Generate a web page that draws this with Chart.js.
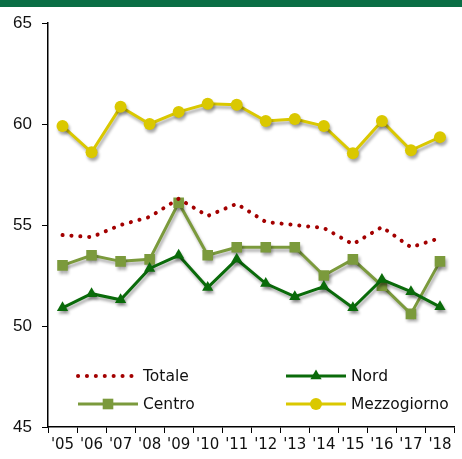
<!DOCTYPE html>
<html>
<head>
<meta charset="utf-8">
<script src="https://cdn.jsdelivr.net/npm/chart.js@4/dist/chart.umd.min.js"></script>
<style>
  html, body { margin: 0; padding: 0; background: #fff; }
  #wrap { position: relative; width: 462px; height: 459px; }
  #bar { position: absolute; left: 0; top: 0; width: 462px; height: 7px; background: #0a6e45; }
</style>
</head>
<body>
<div id="wrap">
  <canvas id="chart" width="462" height="459"></canvas>
  <div id="bar"></div>
</div>
<script>
// Data
const years = ["'05", "'06", "'07", "'08", "'09", "'10", "'11", "'12", "'13", "'14", "'15", "'16", "'17", "'18"];
const totale = [54.5, 54.4, 55.0, 55.4, 56.3, 55.45, 56.05, 55.15, 55.0, 54.85, 54.05, 54.9, 53.9, 54.35];
const nord = [50.9, 51.6, 51.3, 52.85, 53.5, 51.9, 53.3, 52.1, 51.45, 51.95, 50.9, 52.3, 51.7, 50.95];
const centro = [53.0, 53.5, 53.2, 53.3, 56.1, 53.5, 53.9, 53.9, 53.9, 52.5, 53.3, 52.0, 50.6, 53.2];
const mezzogiorno = [59.9, 58.6, 60.85, 60.0, 60.6, 61.0, 60.95, 60.15, 60.25, 59.9, 58.55, 60.15, 58.7, 59.35];
const yTicks = [45, 50, 55, 60, 65];

(function() {
  const ctx = document.getElementById('chart').getContext('2d');

  // drop shadow under each marked line, like the original
  const shadowPlugin = {
    id: 'shadow',
    beforeDatasetDraw: (chart, args) => {
      const c = chart.ctx;
      c.save();
      if (args.index === 0) return;
      c.shadowColor = 'rgba(0,0,0,0.33)';
      c.shadowBlur = 3;
      c.shadowOffsetX = 1.5;
      c.shadowOffsetY = 3;
    },
    afterDatasetDraw: (chart) => {
      chart.ctx.restore();
    }
  };

  // legend drawn inside the plot area, two columns
  const legendPlugin = {
    id: 'innerLegend',
    afterDraw: (chart) => {
      const c = chart.ctx;
      const spots = [
        { x: 78, y: 376 }, { x: 286, y: 376 },
        { x: 78, y: 404 }, { x: 286, y: 404 }
      ];
      c.save();
      chart.data.datasets.forEach((ds, i) => {
        const p = spots[i];
        const w = 60;
        c.strokeStyle = ds.borderColor;
        c.lineWidth = ds.borderWidth;
        c.lineCap = ds.borderCapStyle || 'butt';
        c.setLineDash(ds.borderDash || []);
        c.beginPath();
        c.moveTo(p.x, p.y);
        c.lineTo(p.x + w, p.y);
        c.stroke();
        c.setLineDash([]);
        if (ds.pointRadius > 0) {
          c.fillStyle = ds.pointBackgroundColor;
          Chart.helpers.drawPoint(c, {
            pointStyle: ds.pointStyle,
            radius: ds.pointRadius,
            borderWidth: 0,
            rotation: 0
          }, p.x + w / 2, p.y);
        }
        c.fillStyle = '#111';
        c.font = '15.5px "DejaVu Sans"';
        c.textBaseline = 'middle';
        c.textAlign = 'left';
        c.fillText(ds.label, p.x + w + 5, p.y + 1);
      });
      c.restore();
    }
  };

  new Chart(ctx, {
    type: 'line',
    data: {
      labels: years,
      datasets: [
        {
          label: 'Totale',
          data: totale,
          borderColor: '#a30000',
          borderWidth: 4,
          borderDash: [0.1, 8.8],
          borderCapStyle: 'round',
          pointRadius: 0,
          pointBackgroundColor: '#a30000',
          tension: 0
        },
        {
          label: 'Nord',
          data: nord,
          borderColor: '#0a6b0a',
          borderWidth: 3,
          pointStyle: 'triangle',
          pointRadius: 6.5,
          pointBorderWidth: 0,
          pointBackgroundColor: '#0a6b0a',
          tension: 0
        },
        {
          label: 'Centro',
          data: centro,
          borderColor: '#7b9a3c',
          borderWidth: 3,
          pointStyle: 'rect',
          pointRadius: 7.5,
          pointBorderWidth: 0,
          pointBackgroundColor: '#7b9a3c',
          tension: 0
        },
        {
          label: 'Mezzogiorno',
          data: mezzogiorno,
          borderColor: '#dac800',
          borderWidth: 3,
          pointStyle: 'circle',
          pointRadius: 6,
          pointBorderWidth: 0,
          pointBackgroundColor: '#dac800',
          tension: 0
        }
      ]
    },
    options: {
      responsive: false,
      animation: false,
      layout: { padding: { top: 23, right: 1, left: 0, bottom: 0 } },
      plugins: {
        legend: { display: false },
        tooltip: { enabled: false }
      },
      scales: {
        x: {
          offset: true,
          grid: {
            offset: true,
            drawOnChartArea: false,
            drawTicks: true,
            tickLength: 6,
            color: '#000'
          },
          border: { color: '#000', width: 1.5 },
          ticks: {
            color: '#111',
            font: { family: 'DejaVu Sans', size: 15 },
            padding: 3,
            maxRotation: 0,
            autoSkip: false
          },
          afterFit: (s) => { s.height = 32; }
        },
        y: {
          min: 45,
          max: 65,
          afterBuildTicks: (s) => { s.ticks = yTicks.map(v => ({ value: v })); },
          grid: {
            drawOnChartArea: false,
            drawTicks: true,
            tickLength: 6,
            color: '#000'
          },
          border: { color: '#000', width: 1.5 },
          ticks: {
            color: '#111',
            font: { family: 'Liberation Sans', size: 17 },
            padding: 10
          },
          afterFit: (s) => { s.width = 48; }
        }
      }
    },
    plugins: [shadowPlugin, legendPlugin]
  });
})();
</script>
</body>
</html>
